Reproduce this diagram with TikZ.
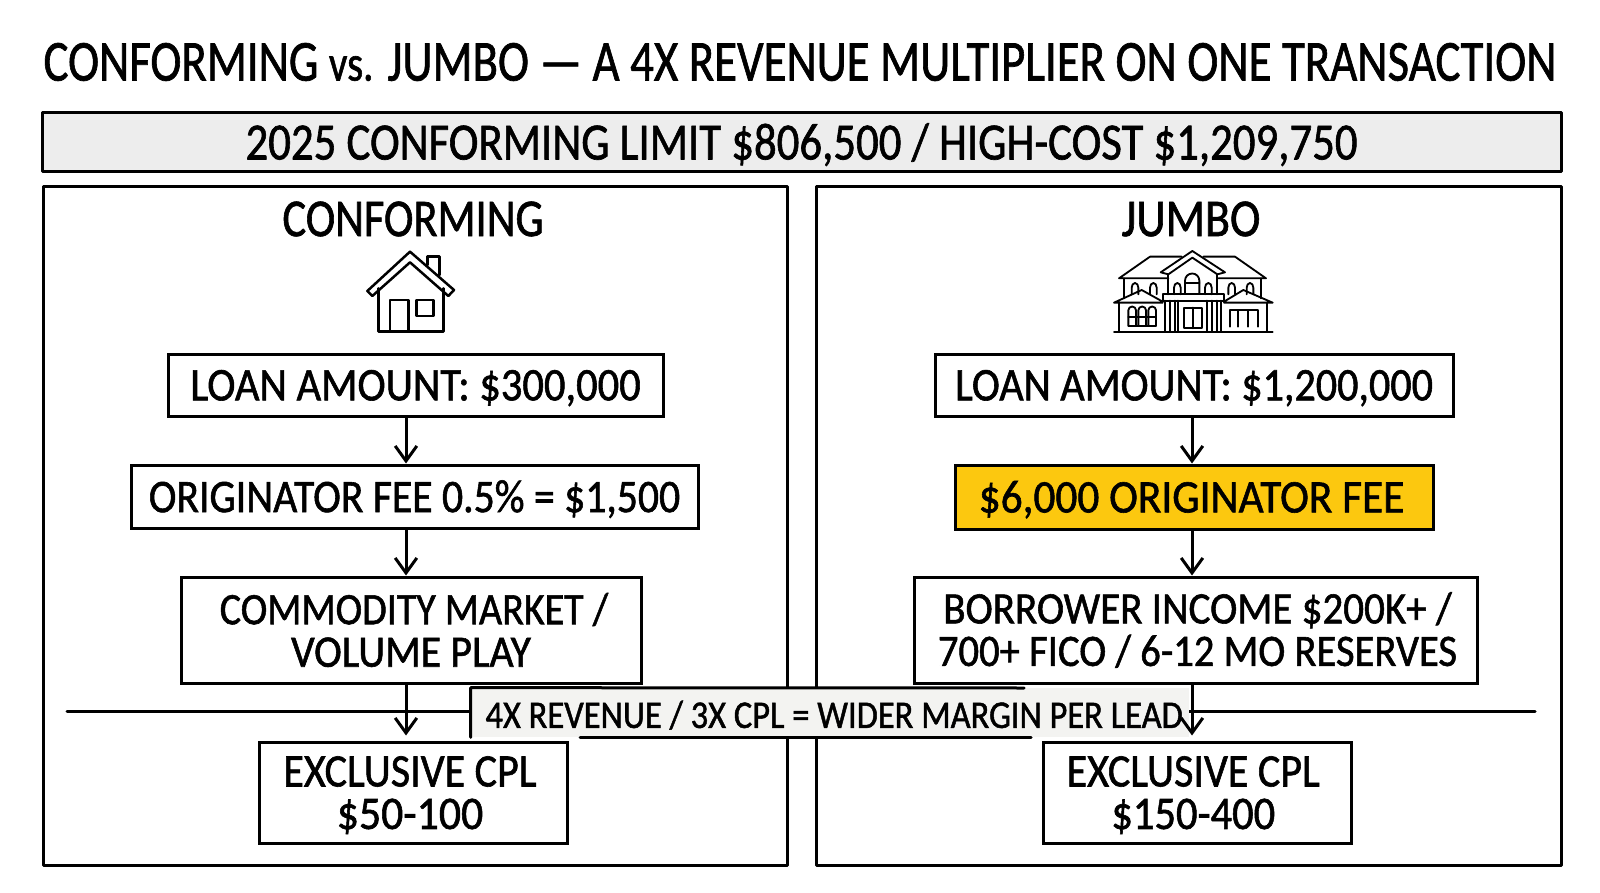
\documentclass[tikz,border=0pt]{standalone}
\usepackage{fontspec}
\setmainfont{Carlito}[FakeBold=1.3]
\usetikzlibrary{arrows.meta,calc}
\tikzset{
  pxgrid/.style={x=0.6pt,y=-0.6pt},
  ink/.style={draw=black,line width=1.8pt,line join=round,line cap=round},
  panel/.style={ink,rectangle,inner sep=0pt},
  flowbox/.style={draw=black,line width=1.8pt,fill=white,rectangle,inner sep=0pt,align=center,font=\fontsize{25}{25.5}\selectfont},
  flow/.style={draw=black,line width=1.8pt,-{Straight Barb[length=9pt,width=13pt,line width=1.8pt]}},
  thin icon/.style={draw=black,line width=1.1pt,line join=round,line cap=round},
  thick icon/.style={draw=black,line width=1.5pt,line join=round,line cap=round},
  heading/.style={font=\fontsize{29}{33}\selectfont,inner sep=0pt}
}
% single-line labels are stretched upright and set a little low in their boxes
\newcommand{\tall}[2][1]{\raisebox{-1.6pt}[\height][\depth]{\scalebox{#1}[1.12]{#2}}}
\newcommand{\rowtext}[2][1]{\scalebox{#1}[1.08]{#2}}
\newcommand{\boxat}[6][]{%
  \node[flowbox,#1,minimum width=#4*0.6pt,minimum height=#5*0.6pt] (#2) at (#3) {#6};}
\begin{document}
\begin{tikzpicture}[pxgrid]
\useasboundingbox (0,0) rectangle (1600,893);
\fill[white] (0,0) rectangle (1600,893);

% heading and limit banner
\node[inner sep=0pt,font=\fontsize{31}{35}\selectfont] (title) at (800,62)
  {\scalebox{0.906}[1.12]{CONFORMING {\fontsize{27}{31}\selectfont vs.} JUMBO — A 4X REVENUE MULTIPLIER ON ONE TRANSACTION}};
\node[ink,fill=black!7,minimum width=1519*0.6pt,minimum height=59*0.6pt,inner sep=0pt,font=\fontsize{28}{32}\selectfont] (banner) at (801.5,142)
  {\tall[0.96]{2025 CONFORMING LIMIT \$806,500 / HIGH-COST \$1,209,750}};

% the two columns
\node[panel,minimum width=744*0.6pt,minimum height=678*0.6pt] (left) at (415,526) {};
\node[panel,minimum width=745*0.6pt,minimum height=678*0.6pt] (right) at (1188.5,526) {};
\node[heading] (lefthead) at (413,219) {\scalebox{0.92}[1.1]{CONFORMING}};
\node[heading] (righthead) at (1191,219) {\scalebox{0.95}[1.1]{JUMBO}};

% small house
\begin{scope}[shift={(340,230)},x=0.2pt,y=-0.2pt]
  \draw[thick icon] (97,198) -- (210,97) -- (325,198) -- (342,180) -- (210,65) -- (82,183) -- cycle;
  \draw[thick icon] (262,105) -- (262,80) -- (298,80) -- (298,135);
  \draw[thick icon] (115,175) -- (115,305) -- (310,305) -- (310,175);
  \draw[thick icon] (150,305) -- (150,210) -- (205,210) -- (205,305);
  \draw[thick icon] (230,210) rectangle (280,258);
\end{scope}

% large house
\begin{scope}[shift={(1100,235)},x=0.2pt,y=-0.2pt]
  \draw[thin icon] (205,130) -- (57,130) -- (150,65) -- (245,65);
  \draw[thin icon] (310,65) -- (405,65) -- (498,130) -- (355,130);
  \draw[thin icon] (182,112) -- (277,48) -- (375,112) -- (352,118) -- (277,68) -- (205,118) -- cycle;
  \draw[thin icon] (205,118) -- (205,178) (352,118) -- (352,178);
  \draw[thin icon] (72,130) -- (72,190) (483,130) -- (483,190);
  \foreach \a/\b in {95/115,150/170,222/242,315/335,385/405,440/460}
    \draw[thin icon] (\a,178) -- (\a,158) arc[start angle=180,end angle=360,x radius=10,y radius=14] -- (\b,178);
  \draw[thin icon] (255,175) -- (255,137) arc[start angle=180,end angle=360,radius=21.5] -- (298,175);
  \draw[thin icon] (255,145) -- (298,145);
  \draw[thin icon] (188,178) -- (372,178) -- (372,197) -- (188,197) -- cycle;
  \foreach \c in {195,210,225,235,320,335,350,362}
    \draw[thin icon] (\c,197) -- (\c,290);
  \draw[thin icon] (252,218) rectangle (305,280) (278,218) -- (278,280);
  \draw[thin icon] (42,203) -- (125,165) -- (188,200) (42,203) -- (188,203);
  \draw[thin icon] (372,200) -- (430,165) -- (518,203) -- (372,203);
  \draw[thin icon] (57,203) -- (57,290) (500,203) -- (500,290);
  \draw[thin icon] (42,292) -- (518,292);
  \foreach \a in {85,115,145}
    \draw[thin icon] (\a,272) -- (\a,226) arc[start angle=180,end angle=360,radius=11.5] -- ++(0,46);
  \draw[thin icon] (85,245) -- (168,245) (85,272) -- (168,272);
  \draw[thin icon] (390,275) -- (390,225) -- (475,225) -- (475,275) (415,225) -- (415,275) (445,225) -- (445,275);
\end{scope}

% left column boxes
\boxat{loanL}{415.5,385.5}{495}{61}{\tall[1.02]{LOAN AMOUNT: \$300,000}}
\boxat{feeL}{414.5,496.5}{567}{63}{\tall{ORIGINATOR FEE 0.5\% = \$1,500}}
\boxat{marketL}{411,630}{460}{106}{\hspace{3.6pt}\rowtext[0.96]{COMMODITY MARKET /}\\\rowtext{VOLUME PLAY}}
\boxat{cplL}{413,792.5}{308}{101}{\tall[1.01]{EXCLUSIVE CPL}\hspace{3.6pt}\null\\\tall[1.05]{\$50-100}\hspace{3.6pt}\null}

% right column boxes
\boxat{loanR}{1194,385.5}{518}{61}{\tall[1.01]{LOAN AMOUNT: \$1,200,000}}
\boxat[fill={rgb,255:red,252;green,200;blue,15}]{feeR}{1194,497}{478}{64}{\tall[1.04]{\$6,000 ORIGINATOR FEE}\hspace{3pt}\null}
\boxat{incomeR}{1195.5,630}{563}{106}{\hspace{2.4pt}\rowtext[0.985]{BORROWER INCOME \$200K+ /}\\\hspace{2.4pt}\rowtext[0.975]{700+ FICO / 6-12 MO RESERVES}}
\boxat{cplR}{1197,792.5}{308}{101}{\tall[1.01]{EXCLUSIVE CPL}\hspace{4.5pt}\null\\\tall[1.02]{\$150-400}\hspace{4.5pt}\null}

% rule across both columns, broken by the callout
\coordinate (ruleL) at (67,711);
\coordinate (ruleR) at (1535,711);
\draw[ink] (ruleL) -- (ruleR);

% callout, open on its right side
\node[fill={rgb,255:red,243;green,243;blue,241},minimum width=718*0.6pt,minimum height=49*0.6pt,inner sep=0pt,font=\fontsize{21}{25}\selectfont] (callout) at (830,712.5)
  {\hspace{5pt}\tall[0.985]{4X REVENUE / 3X CPL = WIDER MARGIN PER LEAD}};
\coordinate (calloutTop) at (1024,688);
\coordinate (calloutBot) at (1031,737);
\coordinate (calloutBotStart) at (580,737);
\draw[ink] (callout.south west) -- (callout.north west) -- (calloutTop);
\draw[ink] (calloutBotStart) -- (calloutBot);

% flow arrows
\coordinate (arrowL) at (406,0);
\coordinate (arrowR) at (1192,0);
\draw[flow] (loanL.south -| arrowL) -- (feeL.north -| arrowL);
\draw[flow] (feeL.south -| arrowL) -- (marketL.north -| arrowL);
\draw[flow,shorten >=3pt] (marketL.south -| arrowL) -- (cplL.north -| arrowL);
\draw[flow] (loanR.south -| arrowR) -- (feeR.north -| arrowR);
\draw[flow] (feeR.south -| arrowR) -- (incomeR.north -| arrowR);
\draw[flow,shorten >=3pt] (incomeR.south -| arrowR) -- (cplR.north -| arrowR);
\end{tikzpicture}
\end{document}
